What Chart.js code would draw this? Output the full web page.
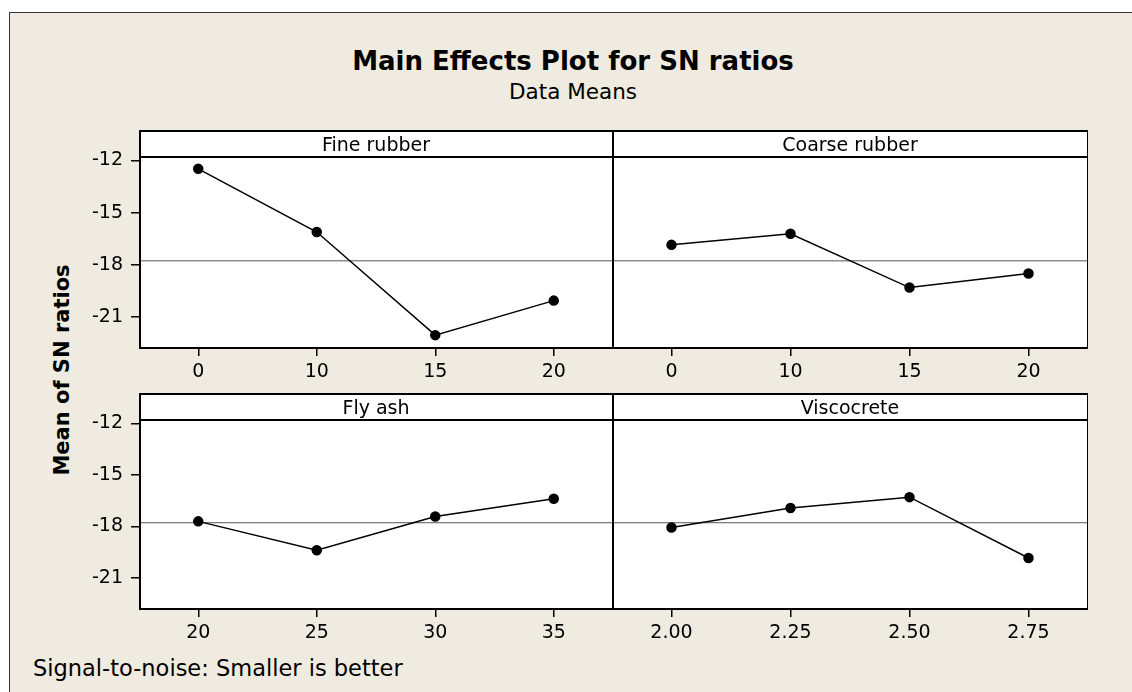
<!DOCTYPE html>
<html lang="en">
<head>
<meta charset="UTF-8">
<title>Main Effects Plot for SN ratios</title>
<script src="https://cdn.jsdelivr.net/npm/chart.js"></script>
<style>
    body {
        margin: 0;
        background: #fff;
        font-family: "DejaVu Sans", sans-serif;
        width: 1132px;
        height: 692px;
        overflow: hidden;
        position: relative;
    }
    .frame {
        position: absolute;
        left: 9px;
        top: 12px;
        width: 1140px;
        height: 700px;
        background: #efebe1;
        border-left: 1.5px solid #333;
        border-top: 1.5px solid #333;
    }
    .title {
        position: absolute;
        left: 7px;
        width: 1132px;
        top: 46px;
        text-align: center;
        font-weight: bold;
        font-size: 26px;
        color: #000;
    }
    .subtitle {
        position: absolute;
        left: 7px;
        width: 1132px;
        top: 79px;
        text-align: center;
        font-size: 21.5px;
        color: #000;
    }
    .ylabel {
        position: absolute;
        left: 62px;
        top: 370px;
        transform: translate(-50%, -50%) rotate(-90deg);
        font-weight: bold;
        font-size: 21px;
        white-space: nowrap;
    }
    .footer {
        position: absolute;
        left: 33px;
        top: 655px;
        font-size: 22.5px;
        white-space: nowrap;
    }
    canvas {
        position: absolute;
    }
</style>
</head>
<body>
<div class="frame"></div>
<div class="title">Main Effects Plot for SN ratios</div>
<div class="subtitle">Data Means</div>
<div class="ylabel">Mean of SN ratios</div>
<div class="footer">Signal-to-noise: Smaller is better</div>

<canvas id="fine" width="563" height="270" style="left:50px; top:120px;"></canvas>
<canvas id="coarse" width="476" height="270" style="left:612px; top:120px;"></canvas>
<canvas id="fly" width="563" height="270" style="left:50px; top:383px;"></canvas>
<canvas id="visco" width="476" height="270" style="left:612px; top:383px;"></canvas>

<script>
    // levels of each factor and mean SN ratio per level
    var fineLevels = ['0', '10', '15', '20'];
    var fineSN = [-12.48, -16.12, -22.06, -20.07];

    var coarseLevels = ['0', '10', '15', '20'];
    var coarseSN = [-16.86, -16.22, -19.32, -18.51];

    var flyLevels = ['20', '25', '30', '35'];
    var flySN = [-17.70, -19.38, -17.42, -16.38];

    var viscoLevels = ['2.00', '2.25', '2.50', '2.75'];
    var viscoSN = [-18.06, -16.92, -16.29, -19.83];

    var yTicks = [-12, -15, -18, -21];
    var yMin = -22.8;
    var yMax = -11.8;
    var grandMean = -17.78;

    var fontFamily = '"DejaVu Sans", sans-serif';
    var headerHeight = 27;

    // white panel, header strip, mean line and box
    var panelPlugin = {
        id: 'panel',
        beforeDraw: function (chart) {
            var a = chart.chartArea;
            var ctx = chart.ctx;
            ctx.save();
            ctx.fillStyle = '#fff';
            ctx.fillRect(a.left, a.top - headerHeight, a.right - a.left, a.bottom - a.top + headerHeight);
            ctx.restore();
        },
        beforeDatasetsDraw: function (chart) {
            var a = chart.chartArea;
            var ctx = chart.ctx;
            var y = chart.scales.y.getPixelForValue(grandMean);
            ctx.save();
            ctx.strokeStyle = '#555';
            ctx.lineWidth = 1;
            ctx.beginPath();
            ctx.moveTo(a.left, y);
            ctx.lineTo(a.right, y);
            ctx.stroke();
            ctx.restore();
        },
        afterDraw: function (chart, args, opts) {
            var a = chart.chartArea;
            var ctx = chart.ctx;
            ctx.save();
            ctx.strokeStyle = '#000';
            ctx.lineWidth = 2;
            ctx.strokeRect(a.left + 1, a.top - headerHeight + 1, a.right - a.left - 1, a.bottom - a.top + headerHeight - 1);
            ctx.beginPath();
            ctx.moveTo(a.left, a.top);
            ctx.lineTo(a.right, a.top);
            ctx.stroke();
            ctx.fillStyle = '#000';
            ctx.font = '19px ' + fontFamily;
            ctx.textAlign = 'center';
            ctx.textBaseline = 'middle';
            ctx.fillText(opts.title, (a.left + a.right) / 2, a.top - headerHeight / 2 + 3);
            ctx.restore();
        }
    };

    function makePanel(id, title, labels, values, showY, xHeight) {
        var ctx = document.getElementById(id).getContext('2d');
        return new Chart(ctx, {
            type: 'line',
            data: {
                labels: labels,
                datasets: [{
                    data: values,
                    borderColor: '#000',
                    backgroundColor: '#000',
                    borderWidth: 1.5,
                    pointRadius: 4.5,
                    pointHoverRadius: 4.5,
                    pointBackgroundColor: '#000',
                    tension: 0
                }]
            },
            options: {
                responsive: false,
                animation: false,
                layout: { autoPadding: false, padding: { top: 37, right: 0, left: 0, bottom: 0 } },
                plugins: {
                    legend: { display: false },
                    tooltip: { enabled: false },
                    panel: { title: title }
                },
                scales: {
                    x: {
                        type: 'category',
                        offset: true,
                        grid: { display: true, drawOnChartArea: false, drawTicks: true, tickLength: 8, color: '#000', lineWidth: 1.5 },
                        border: { display: false },
                        ticks: { color: '#000', font: { family: fontFamily, size: 19 }, padding: 5, maxRotation: 0 },
                        afterFit: function (scale) {
                            scale.height = xHeight;
                            scale.paddingLeft = 0;
                            scale.paddingRight = 0;
                        }
                    },
                    y: {
                        display: showY,
                        min: yMin,
                        max: yMax,
                        afterBuildTicks: function (scale) {
                            scale.ticks = yTicks.map(function (v) { return { value: v }; });
                        },
                        grid: { display: true, drawOnChartArea: false, drawTicks: true, tickLength: 8, color: '#000', lineWidth: 1.5 },
                        border: { display: false },
                        ticks: { color: '#000', font: { family: fontFamily, size: 19 }, padding: 8 },
                        afterFit: function (scale) {
                            scale.width = showY ? 89 : 0;
                            scale.paddingTop = 0;
                            scale.paddingBottom = 0;
                        }
                    }
                }
            },
            plugins: [panelPlugin]
        });
    }

    makePanel('fine', 'Fine rubber', fineLevels, fineSN, true, 42);
    makePanel('coarse', 'Coarse rubber', coarseLevels, coarseSN, false, 42);
    makePanel('fly', 'Fly ash', flyLevels, flySN, true, 44);
    makePanel('visco', 'Viscocrete', viscoLevels, viscoSN, false, 44);
</script>
</body>
</html>
